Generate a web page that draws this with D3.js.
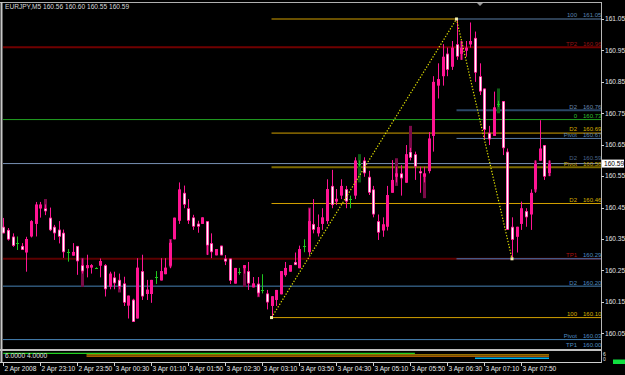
<!DOCTYPE html>
<html lang="en">
<head>
<meta charset="UTF-8">
<title>EURJPY,M5</title>
<script src="https://d3js.org/d3.v7.min.js"></script>
<style>
  html, body { margin: 0; padding: 0; background: #000; }
  svg { display: block; }
  text { font-family: "Liberation Sans Narrow", "Liberation Sans", Arial, sans-serif; font-size: 6.6px; }
  text.lvl { font-size: 6px; }
</style>
</head>
<body>
<svg width="625" height="375"></svg>
<script>
// --- data (EURJPY M5, 2 Apr 2008 22:30 -> 3 Apr 2008 08:20) ---
const symbol = "EURJPY,M5";
const startTime = new Date(2008, 3, 2, 22, 30);

const open = [160.389,160.379,160.358,160.336,160.328,160.307,160.358,160.398,160.447,160.448,
  160.418,160.389,160.380,160.370,160.309,160.297,160.328,160.267,160.257,160.259,
  160.258,160.265,160.267,160.198,160.228,160.220,160.209,160.138,160.157,160.097,
  160.248,160.175,160.175,160.228,160.218,160.238,160.265,160.349,160.408,160.497,
  160.448,160.419,160.399,160.398,160.407,160.337,160.298,160.329,160.288,160.288,
  160.208,160.246,160.257,160.248,160.196,160.208,160.188,160.177,160.137,160.156,
  160.174,160.235,160.246,160.277,160.257,160.329,160.308,160.398,160.368,160.398,
  160.407,160.519,160.469,160.488,160.509,160.478,160.488,160.589,160.600,160.548,
  160.508,160.407,160.377,160.389,160.497,160.548,160.559,160.529,160.628,160.620,
  160.566,160.548,160.566,160.678,160.838,160.868,160.940,160.898,160.970,160.939,
  160.949,160.969,160.990,160.868,160.829,160.688,160.678,160.778,160.789,160.628,
  160.389,160.357,160.398,160.439,160.428,160.508,160.599,160.649,160.560];
const high = [160.417,160.385,160.368,160.358,160.337,160.357,160.410,160.468,160.468,160.460,
  160.450,160.395,160.407,160.380,160.318,160.337,160.328,160.288,160.300,160.270,
  160.260,160.288,160.270,160.246,160.246,160.240,160.230,160.170,160.160,160.289,
  160.300,160.220,160.220,160.248,160.289,160.289,160.348,160.418,160.530,160.520,
  160.477,160.427,160.408,160.419,160.407,160.368,160.318,160.329,160.299,160.288,
  160.258,160.258,160.267,160.277,160.229,160.229,160.238,160.188,160.168,160.188,
  160.248,160.277,160.267,160.307,160.329,160.349,160.447,160.477,160.428,160.448,
  160.540,160.570,160.509,160.540,160.519,160.488,160.610,160.600,160.610,160.567,
  160.519,160.428,160.419,160.519,160.601,160.580,160.585,160.649,160.640,160.628,
  160.580,160.580,160.690,160.868,160.909,160.970,160.959,160.980,161.050,160.980,
  160.980,161.039,161.010,160.909,160.829,160.710,160.819,160.790,160.789,160.638,
  160.419,160.389,160.469,160.448,160.508,160.600,160.728,160.649,160.600];
const low = [160.368,160.345,160.325,160.315,160.315,160.246,160.355,160.358,160.418,160.426,
  160.375,160.347,160.336,160.290,160.278,160.297,160.236,160.240,160.228,160.240,
  160.256,160.228,160.167,160.190,160.190,160.190,160.137,160.097,160.086,160.097,
  160.156,160.156,160.147,160.207,160.218,160.238,160.257,160.349,160.398,160.448,
  160.398,160.379,160.370,160.398,160.299,160.289,160.298,160.298,160.267,160.207,
  160.208,160.236,160.240,160.188,160.196,160.167,160.177,160.126,160.100,160.137,
  160.174,160.230,160.246,160.267,160.257,160.308,160.299,160.368,160.358,160.379,
  160.398,160.448,160.458,160.477,160.448,160.448,160.477,160.580,160.548,160.490,
  160.419,160.347,160.357,160.377,160.497,160.530,160.488,160.529,160.600,160.538,
  160.497,160.530,160.559,160.628,160.797,160.838,160.868,160.888,160.920,160.920,
  160.930,160.959,160.850,160.808,160.667,160.649,160.678,160.770,160.617,160.379,
  160.290,160.307,160.379,160.389,160.379,160.497,160.599,160.538,160.550];
const close = [160.368,160.348,160.328,160.336,160.315,160.350,160.407,160.460,160.460,160.438,
  160.378,160.368,160.357,160.308,160.309,160.309,160.279,160.247,160.267,160.267,
  160.258,160.280,160.190,160.240,160.209,160.198,160.147,160.170,160.086,160.259,
  160.167,160.189,160.220,160.228,160.248,160.259,160.338,160.418,160.508,160.459,
  160.408,160.389,160.389,160.419,160.329,160.308,160.318,160.298,160.278,160.217,
  160.258,160.246,160.267,160.208,160.209,160.177,160.188,160.148,160.168,160.188,
  160.248,160.258,160.267,160.267,160.318,160.329,160.407,160.379,160.388,160.419,
  160.509,160.458,160.478,160.519,160.469,160.478,160.600,160.589,160.559,160.497,
  160.428,160.370,160.397,160.490,160.538,160.559,160.543,160.620,160.608,160.580,
  160.559,160.559,160.670,160.850,160.859,160.930,160.888,160.959,160.930,160.959,
  160.959,160.980,160.879,160.819,160.697,160.667,160.769,160.778,160.639,160.379,
  160.347,160.389,160.448,160.419,160.497,160.589,160.638,160.548,160.590];

// faint shadow bars behind the candles
const shadowIdx  = [9, 17, 25, 36, 44, 52, 55, 66, 77, 85, 88, 91, 99, 107, 115, 118];
const shadowHigh = [160.477,160.290,160.220,160.350,160.330,160.260,160.180,160.450,160.620,160.607,160.710,160.550,160.980,160.829,160.600,160.600];
const shadowLow  = [160.440,160.198,160.180,160.260,160.300,160.198,160.165,160.400,160.530,160.519,160.630,160.480,160.920,160.750,160.500,160.550];
const shadowDoji = [false,false,false,false,false,false,false,false,true,false,false,false,false,true,false,false];

// fibonacci anchors (bar index, price)
const fibIdx = [58, 98, 110];
const fibPrice = [160.10, 161.05, 160.287];

const goldLevels = [161.05, 160.687, 160.578, 160.463, 160.10];
const goldNames  = ["", "D2", "Pivot", "D2", "100"];
const blueLevels = [161.05, 160.76, 160.67, 160.287];
const blueNames  = ["100", "D2", "Pivot", ""];
const pivotLevels = [160.96, 160.73, 160.59, 160.287, 160.20, 160.03, 160.00];
const pivotNames  = ["TP2", "0", "D2", "TP1", "D2", "Pivot", "TP1"];

const priceTicks = [161.05, 160.95, 160.85, 160.75, 160.65, 160.55, 160.45, 160.35, 160.25, 160.15, 160.05];
const timeLabels = ["2 Apr 2008","2 Apr 23:10","2 Apr 23:50","3 Apr 00:30","3 Apr 01:10","3 Apr 01:50",
  "3 Apr 02:30","3 Apr 03:10","3 Apr 03:50","3 Apr 04:30","3 Apr 05:10","3 Apr 05:50",
  "3 Apr 06:30","3 Apr 07:10","3 Apr 07:50"];

// indicator sub-window: segments (bar from, bar to, value)
const subFrom  = [0, 18, 18, 102];
const subTo    = [89, 118, 118, 118];
const subValue = [6, 4.9, 4, 2.7];
const subTitle = "6.0000 4.0000";

// --- styles ---
const PINK = "#ff1493", GOLD = "#d2a000", OLIVE = "#7d6a00";
const pivotColors = ["#700000", "#22a022", "#7890b4", "#5c0000", "#4682b4", "#4682b4", "#4682b4"];
const pivotText   = ["#9a1010", "#2fbf2f", "#4a6488", "#b01010", "#4f8cc0", "#4f8cc0", "#4f8cc0"];
const pivotValText = ["#9a1010", "#2fbf2f", "#4a6488", "#4f8cc0", "#4f8cc0", "#4f8cc0", "#4f8cc0"];
const pivotWidth  = [2, 1, 1, 2, 1, 1, 0];
const blueColors  = ["#5b7ea6", "#2a4666", "#5b7ea6", "#3b7fc0"];
const blueText    = ["#5b84b0", "#6a8ab0", "#5b84b0", "#4f8cc0"];
const blueWidth   = [1, 2, 1, 1];
const goldColors  = [GOLD, GOLD, OLIVE, GOLD, GOLD];
const goldWidth   = [1, 1, 2, 1, 1];
const subColors   = ["#22d022", "#c89600", "#a85a00", "#00b4f0"];

const svg = d3.select("svg");
const W = 625, H = 375, axisX = 601, mainBottom = 350;

const x = d3.scaleLinear().domain([0, open.length - 1]).range([3.3, 549]);
const y = d3.scaleLinear().domain([160.05, 161.05]).range([333.3, 19]);
const xt = d3.scaleTime()
  .domain([startTime, d3.timeMinute.offset(startTime, 5 * (open.length - 1))])
  .range(x.range());
const ySub = d3.scaleLinear().domain([0, 6]).range([362.3, 353.3]);

svg.append("rect").attr("width", W).attr("height", H).attr("fill", "#000");

const main = svg.append("g");

// full-width pivot lines
pivotLevels.forEach((p, k) => {
  if (pivotWidth[k] > 0)
    main.append("line").attr("x1", 3).attr("x2", axisX)
      .attr("y1", y(p)).attr("y2", y(p))
      .attr("stroke", pivotColors[k]).attr("stroke-width", pivotWidth[k]);
});

// gold fib lines
goldLevels.forEach((p, k) => {
  const x2 = k === 0 ? x(fibIdx[1]) : axisX;
  main.append("line").attr("x1", x(fibIdx[0])).attr("x2", x2)
    .attr("y1", y(p)).attr("y2", y(p))
    .attr("stroke", goldColors[k]).attr("stroke-width", goldWidth[k]);
});
// blue fib lines
blueLevels.forEach((p, k) => {
  main.append("line").attr("x1", x(fibIdx[1])).attr("x2", axisX)
    .attr("y1", y(p)).attr("y2", y(p))
    .attr("stroke", blueColors[k]).attr("stroke-width", blueWidth[k]);
});

// shadow bars
shadowIdx.forEach((i, k) => {
  main.append("rect")
    .attr("x", Math.round(x(i)) - 1).attr("width", 3)
    .attr("y", y(shadowHigh[k])).attr("height", y(shadowLow[k]) - y(shadowHigh[k]))
    .attr("fill", shadowDoji[k] ? "#0b5a12" : "#7a0a48");
});

// candles
const candles = main.append("g");
open.forEach((o, i) => {
  const c = close[i];
  const cx = Math.round(x(i));
  const doji = Math.abs(o - c) < 0.0005;
  const col = doji ? "#1ec81e" : PINK;
  candles.append("line")
    .attr("x1", cx + 0.5).attr("x2", cx + 0.5)
    .attr("y1", y(high[i])).attr("y2", y(low[i]))
    .attr("stroke", col).attr("stroke-width", 1);
  if (doji) {
    candles.append("line")
      .attr("x1", cx - 1).attr("x2", cx + 2)
      .attr("y1", Math.round(y(o)) + 0.5).attr("y2", Math.round(y(o)) + 0.5)
      .attr("stroke", col);
    return;
  }
  const top = y(Math.max(o, c)), bot = y(Math.min(o, c));
  const h = Math.max(1, bot - top);
  candles.append("rect").attr("x", cx - 1).attr("width", 3)
    .attr("y", top).attr("height", h).attr("fill", PINK);
  if (c < o && h > 2) {
    candles.append("rect").attr("x", cx - 0.3).attr("width", 1.6)
      .attr("y", top + 0.8).attr("height", h - 1.6).attr("fill", "#fff");
  }
});

// fib trend dotted line + anchors
const fibLine = d3.line().x(d => x(d[0])).y(d => y(d[1]));
main.append("path")
  .datum(fibIdx.map((i, k) => [i, fibPrice[k]]))
  .attr("d", fibLine).attr("fill", "none")
  .attr("stroke", "#e0e000").attr("stroke-width", 1.2)
  .attr("stroke-dasharray", "1.3,1.7");
fibIdx.forEach((i, k) => {
  main.append("rect").attr("x", x(i) - 1.5).attr("y", y(fibPrice[k]) - 1.5)
    .attr("width", 3).attr("height", 3).attr("fill", "#f4f0b0");
});

// level labels: name right-aligned, value left-aligned
function levelLabel(p, name, color, valColor, dy) {
  if (!name) return;
  const ty = y(p) - 1.6 + (dy || 0);
  main.append("text").attr("class", "lvl").attr("x", 577).attr("y", ty).attr("text-anchor", "end")
    .attr("fill", color).text(name);
  main.append("text").attr("class", "lvl").attr("x", 583).attr("y", ty)
    .attr("fill", valColor || color).text(p.toFixed(2));
}
pivotLevels.forEach((p, k) => levelLabel(p, pivotNames[k], pivotText[k], pivotValText[k], k === 2 ? -1.5 : 0));
blueLevels.forEach((p, k) => levelLabel(p, blueNames[k], blueText[k]));
goldLevels.forEach((p, k) => levelLabel(p, goldNames[k], k === 2 ? "#c8a000" : "#d8b000", null, k === 2 ? 0.6 : 0));

// frame
const frame = svg.append("g").attr("fill", "none");
frame.append("line").attr("x1", 0).attr("x2", axisX).attr("y1", 2.5).attr("y2", 2.5)
  .attr("stroke", "#b0b0b0");
frame.append("line").attr("x1", 1.5).attr("x2", 1.5).attr("y1", 2).attr("y2", 363)
  .attr("stroke", "#c8c8c8").attr("stroke-width", 2);
frame.append("line").attr("x1", 0).attr("x2", axisX).attr("y1", mainBottom).attr("y2", mainBottom)
  .attr("stroke", "#c0c0c0").attr("stroke-width", 2);
frame.append("line").attr("x1", 0).attr("x2", axisX + 1).attr("y1", 362.5).attr("y2", 362.5)
  .attr("stroke", "#d0d0d0");
frame.append("line").attr("x1", axisX + 0.5).attr("x2", axisX + 0.5).attr("y1", 2).attr("y2", 363)
  .attr("stroke", "#b8b8b8");

// header
svg.append("text").attr("x", 5).attr("y", 9).attr("fill", "#d8d8d8")
  .text(`${symbol}  ${open[open.length-1].toFixed(2)} ${high[high.length-1].toFixed(2)} ${low[low.length-1].toFixed(2)} ${close[close.length-1].toFixed(2)}`);

// shift marker
svg.append("path").attr("d", "M477,3 L483,3 L480,6 Z").attr("fill", "#9a9a9a");

// price axis
const pa = svg.append("g");
priceTicks.forEach(p => {
  pa.append("line").attr("x1", axisX).attr("x2", axisX + 3)
    .attr("y1", Math.round(y(p)) + 0.5).attr("y2", Math.round(y(p)) + 0.5).attr("stroke", "#d0d0d0");
  pa.append("text").attr("x", 605).attr("y", y(p) + 2.3).attr("fill", "#e0e0e0")
    .text(p.toFixed(2));
});
// current price box
const last = close[close.length - 1];
pa.append("rect").attr("x", 602).attr("y", y(last) - 4).attr("width", 22).attr("height", 8)
  .attr("fill", "#fff");
pa.append("text").attr("x", 604).attr("y", y(last) + 2.3).attr("fill", "#000").text(last.toFixed(2));

// time axis
const ta = svg.append("g");
timeLabels.forEach((lab, k) => {
  const tx = Math.round(xt(d3.timeMinute.offset(startTime, 40 * k)));
  ta.append("line").attr("x1", tx + 0.5).attr("x2", tx + 0.5).attr("y1", 363).attr("y2", 366)
    .attr("stroke", "#d0d0d0");
  ta.append("text").attr("x", tx + 1.5).attr("y", 371).attr("fill", "#e8e8e8").text(lab);
});

// indicator sub-window
const sw = svg.append("g");
subValue.forEach((v, k) => {
  sw.append("line").attr("x1", Math.max(3, x(subFrom[k]))).attr("x2", x(subTo[k]))
    .attr("y1", ySub(v)).attr("y2", ySub(v))
    .attr("stroke", subColors[k]).attr("stroke-width", 1.3);
});
sw.append("text").attr("x", 5).attr("y", 358).attr("fill", "#e0e0e0").text(subTitle);
sw.append("text").attr("x", 603).attr("y", 355.5).attr("fill", "#e0e0e0").style("font-size", "5px").text("6");
sw.append("text").attr("x", 603).attr("y", 361).attr("fill", "#e0e0e0").style("font-size", "5px").text("0");
sw.append("rect").attr("x", 613).attr("y", 359.5).attr("width", 12).attr("height", 4.5).attr("fill", "#10e040");
</script>
</body>
</html>
